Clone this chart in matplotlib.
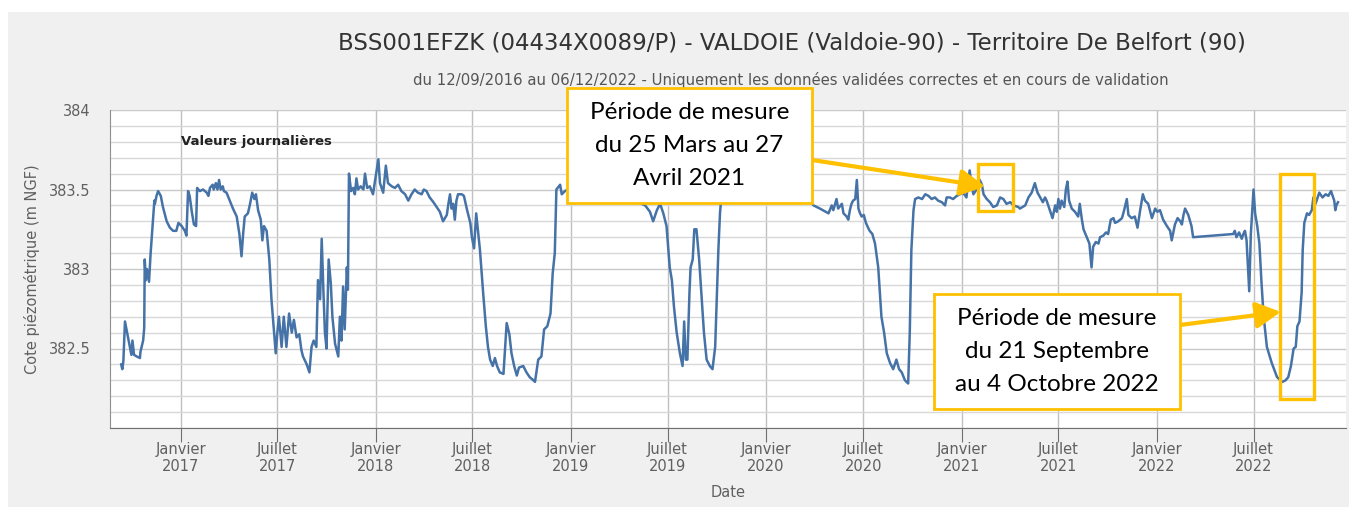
import numpy as np
import pandas as pd
import matplotlib
matplotlib.use("Agg")
import matplotlib.pyplot as plt
import matplotlib.dates as mdates
from matplotlib.patches import Rectangle
from matplotlib.ticker import FuncFormatter, MultipleLocator

########################################################################
# Data (days since 12/09/2016, level in m NGF)

debut = pd.Timestamp("2016-09-12")

jours = [0, 2, 4, 7, 11, 16, 19, 21, 24, 29, 35, 36, 41, 43, 44, 46, 48, 52, 55, 59,
         62, 63, 66, 69, 74, 78, 85, 91, 97, 103, 107, 113, 119, 122, 125, 128, 132, 136, 140, 142,
         147, 153, 160, 163, 166, 171, 173, 177, 180, 183, 186, 190, 192, 197, 203, 209, 216, 221, 225, 228,
         231, 237, 241, 245, 249, 252, 256, 261, 264, 267, 272, 277, 281, 286, 289, 292, 295, 300, 304, 309,
         314, 319, 323, 328, 333, 337, 340, 347, 352, 356, 360, 365, 368, 372, 375, 378, 381, 384, 388, 392,
         395, 400, 406, 409, 412, 415, 418, 422, 424, 426, 430, 434, 437, 440, 443, 448, 453, 456, 460, 465,
         471, 475, 481, 484, 490, 495, 499, 506, 512, 518, 524, 531, 537, 543, 549, 555, 562, 566, 571, 577,
         584, 590, 596, 602, 609, 612, 615, 618, 621, 624, 627, 630, 637, 641, 647, 653, 656, 660, 664, 668,
         671, 677, 682, 686, 690, 695, 699, 703, 708, 715, 721, 726, 730, 735, 740, 744, 752, 758, 764, 771,
         774, 780, 786, 791, 797, 803, 807, 811, 814, 821, 824, 830, 840, 860, 880, 900, 920, 940, 960, 980,
         989, 995, 1002, 1008, 1014, 1020, 1026, 1030, 1034, 1039, 1045, 1050, 1053, 1056, 1059, 1063, 1065, 1069, 1072, 1076,
         1081, 1086, 1090, 1095, 1101, 1106, 1111, 1114, 1117, 1120, 1123, 1130, 1150, 1170, 1190, 1210, 1230, 1250, 1270, 1290,
         1295, 1307, 1323, 1329, 1332, 1338, 1341, 1348, 1351, 1357, 1360, 1363, 1366, 1369, 1373, 1376, 1379, 1382, 1385, 1389,
         1393, 1397, 1400, 1405, 1410, 1416, 1422, 1427, 1432, 1438, 1444, 1450, 1455, 1460, 1466, 1472, 1475, 1478, 1482, 1485,
         1491, 1498, 1504, 1510, 1516, 1522, 1528, 1535, 1541, 1544, 1550, 1556, 1563, 1569, 1575, 1581, 1587, 1591, 1594, 1600,
         1606, 1610, 1613, 1619, 1625, 1631, 1638, 1644, 1650, 1656, 1663, 1669, 1678, 1681, 1691, 1697, 1703, 1709, 1714, 1719,
         1724, 1728, 1731, 1737, 1742, 1747, 1750, 1753, 1756, 1759, 1764, 1767, 1770, 1773, 1778, 1784, 1790, 1793, 1797, 1800,
         1806, 1811, 1815, 1818, 1823, 1828, 1831, 1837, 1842, 1846, 1851, 1856, 1859, 1865, 1872, 1876, 1881, 1884, 1890, 1896,
         1901, 1906, 1911, 1915, 1921, 1928, 1934, 1938, 1943, 1949, 1956, 1962, 1965, 1971, 1976, 1981, 1984, 1987, 1990, 1996,
         2002, 2005, 2080, 2083, 2086, 2091, 2096, 2099, 2102, 2105, 2110, 2113, 2118, 2121, 2125, 2129, 2133, 2137, 2143, 2152,
         2162, 2172, 2178, 2183, 2188, 2193, 2197, 2200, 2204, 2208, 2210, 2213, 2218, 2222, 2227, 2230, 2234, 2241, 2247, 2253,
         2258, 2263, 2266, 2269, 2271, 2273, 2276]

cote = [382.40, 382.37, 382.42, 382.67, 382.60, 382.51, 382.46, 382.55, 382.46, 382.45, 382.44, 382.48, 382.55, 382.63, 383.06, 382.93, 383.00, 382.92, 383.10, 383.29,
        383.43, 383.41, 383.46, 383.49, 383.46, 383.39, 383.30, 383.26, 383.24, 383.24, 383.29, 383.27, 383.24, 383.21, 383.49, 383.46, 383.36, 383.28, 383.27, 383.51,
        383.49, 383.50, 383.48, 383.46, 383.51, 383.53, 383.50, 383.54, 383.50, 383.56, 383.50, 383.52, 383.49, 383.48, 383.43, 383.38, 383.33, 383.22, 383.08, 383.22,
        383.33, 383.35, 383.41, 383.48, 383.44, 383.47, 383.37, 383.31, 383.18, 383.27, 383.24, 383.06, 382.81, 382.60, 382.47, 382.60, 382.70, 382.51, 382.70, 382.51,
        382.72, 382.60, 382.68, 382.57, 382.59, 382.49, 382.45, 382.40, 382.35, 382.51, 382.55, 382.51, 382.93, 382.81, 383.19, 382.88, 382.60, 382.50, 383.06, 382.91,
        382.70, 382.53, 382.45, 382.70, 382.55, 382.89, 382.62, 383.01, 382.87, 383.60, 383.49, 383.51, 383.47, 383.57, 383.50, 383.52, 383.50, 383.60, 383.51, 383.52,
        383.47, 383.56, 383.69, 383.54, 383.48, 383.65, 383.54, 383.52, 383.51, 383.53, 383.49, 383.47, 383.43, 383.47, 383.50, 383.48, 383.47, 383.50, 383.49, 383.45,
        383.42, 383.39, 383.36, 383.30, 383.34, 383.41, 383.47, 383.38, 383.41, 383.31, 383.43, 383.47, 383.47, 383.46, 383.37, 383.29, 383.20, 383.13, 383.35, 383.22,
        383.12, 382.85, 382.64, 382.51, 382.43, 382.39, 382.44, 382.39, 382.35, 382.34, 382.66, 382.59, 382.47, 382.39, 382.33, 382.38, 382.39, 382.35, 382.32, 382.30,
        382.29, 382.43, 382.45, 382.62, 382.64, 382.72, 382.97, 383.10, 383.50, 383.53, 383.47, 383.49, 383.51, 383.48, 383.52, 383.47, 383.50, 383.45, 383.43, 383.40,
        383.36, 383.30, 383.37, 383.41, 383.35, 383.27, 383.01, 382.93, 382.76, 382.60, 382.47, 382.39, 382.67, 382.43, 382.43, 382.86, 383.01, 383.06, 383.25, 383.25,
        383.06, 382.81, 382.60, 382.43, 382.39, 382.37, 382.51, 382.81, 383.12, 383.35, 383.47, 383.50, 383.47, 383.50, 383.45, 383.48, 383.44, 383.47, 383.43, 383.42,
        383.40, 383.38, 383.35, 383.40, 383.37, 383.44, 383.38, 383.41, 383.35, 383.33, 383.31, 383.37, 383.41, 383.43, 383.44, 383.56, 383.38, 383.35, 383.33, 383.34,
        383.29, 383.26, 383.24, 383.22, 383.16, 383.01, 382.70, 382.60, 382.47, 382.41, 382.37, 382.43, 382.37, 382.35, 382.30, 382.28, 382.60, 383.12, 383.37, 383.44,
        383.45, 383.44, 383.47, 383.46, 383.44, 383.45, 383.43, 383.42, 383.40, 383.45, 383.45, 383.44, 383.46, 383.47, 383.48, 383.45, 383.62, 383.52, 383.47, 383.50,
        383.56, 383.53, 383.47, 383.44, 383.42, 383.39, 383.40, 383.45, 383.44, 383.41, 383.42, 383.40, 383.39, 383.38, 383.40, 383.45, 383.48, 383.54, 383.48, 383.45,
        383.42, 383.45, 383.43, 383.37, 383.32, 383.40, 383.36, 383.44, 383.38, 383.43, 383.39, 383.50, 383.55, 383.43, 383.38, 383.36, 383.33, 383.41, 383.31, 383.25,
        383.20, 383.16, 383.01, 383.14, 383.17, 383.16, 383.20, 383.21, 383.23, 383.22, 383.31, 383.32, 383.29, 383.30, 383.32, 383.37, 383.44, 383.34, 383.32, 383.33,
        383.26, 383.37, 383.47, 383.43, 383.41, 383.32, 383.38, 383.36, 383.37, 383.31, 383.27, 383.24, 383.18, 383.28, 383.32, 383.30, 383.28, 383.34, 383.38, 383.34,
        383.27, 383.20, 383.22, 383.24, 383.20, 383.23, 383.19, 383.22, 383.24, 383.18, 382.86, 383.22, 383.50, 383.35, 383.27, 383.16, 382.91, 382.70, 382.51, 382.41,
        382.32, 382.29, 382.30, 382.32, 382.39, 382.50, 382.51, 382.64, 382.67, 382.85, 383.12, 383.29, 383.35, 383.34, 383.37, 383.45, 383.41, 383.48, 383.45, 383.47,
        383.46, 383.49, 383.46, 383.43, 383.37, 383.40, 383.42]

dates = debut + pd.to_timedelta(jours, unit="D")

# highlighted periods (as drawn on the picture)
periode_mars = ("2021-02-01", "2021-04-08", 383.365, 383.66)
periode_sept = ("2022-08-20", "2022-10-22", 382.18, 383.60)

mois_fr = {1: "Janvier", 7: "Juillet"}

########################################################################
# Figure

W, H = 1349, 507
fig = plt.figure(figsize=(W / 100, H / 100), dpi=100, facecolor="white")

def px(x, y):
    return x / W, 1 - y / H

# gray chart panel
fig.patches.append(Rectangle(px(8, 507), (W - 8) / W, 495 / H, transform=fig.transFigure,
                             facecolor="#f0f0f0", edgecolor="none", zorder=-10))

font_hc = ["Liberation Sans Narrow", "DejaVu Sans"]
font_box = ["Lato", "DejaVu Sans"]

ax = fig.add_axes([110 / W, 79 / H, 1236 / W, 318 / H])
ax.set_facecolor("white")

ax.plot(dates, cote, color="#4572A7", lw=1.8, zorder=3)

ax.set_ylim(382, 384)
ax.set_xlim(pd.Timestamp("2016-08-22"), pd.Timestamp("2022-12-21"))

ax.yaxis.set_major_locator(MultipleLocator(0.5))
ax.yaxis.set_minor_locator(MultipleLocator(0.1))
ax.yaxis.set_major_formatter(FuncFormatter(lambda v, p: f"{v:g}" if v > 382.2 else ""))
ax.grid(which="both", axis="y", color="#d8d8d8", lw=1)
ax.grid(which="major", axis="y", color="#c8c8c8", lw=1)

ax.xaxis.set_major_locator(mdates.MonthLocator(bymonth=[1, 7]))
ax.xaxis.set_major_formatter(FuncFormatter(
    lambda v, p: f"{mois_fr[mdates.num2date(v).month]}\n{mdates.num2date(v).year}"))
ax.grid(which="major", axis="x", color="#c0c0c0", lw=1)

for s in ["top", "right"]:
    ax.spines[s].set_visible(False)
ax.spines["bottom"].set_color("#707070")
ax.spines["left"].set_color("#909090")

ax.tick_params(axis="x", length=10, color="#707070", labelcolor="#606060", labelsize=10.5, pad=0)
for t in ax.get_xticklabels():
    t.set_family(font_hc)
ax.tick_params(axis="y", which="both", length=0, labelcolor="#606060", labelsize=10.5, pad=14)
for t in ax.get_yticklabels():
    t.set_family(font_hc)

ax.set_ylabel("Cote piézométrique (m NGF)", color="#606060", fontsize=10.5, labelpad=6)
ax.set_xlabel("Date", color="#606060", fontsize=10.5, family=font_hc, labelpad=8)

ax.text(0.0574, 0.9025, "Valeurs journalières", transform=ax.transAxes, fontsize=9.5,
        fontweight="bold", color="#222222", va="center", ha="left")

fig.text(*px(792, 43), "BSS001EFZK (04434X0089/P) - VALDOIE (Valdoie-90) - Territoire De Belfort (90)",
         ha="center", va="center", fontsize=16.5, color="#333333", family=font_hc)
fig.text(*px(791, 80), "du 12/09/2016 au 06/12/2022 - Uniquement les données validées correctes et en cours de validation",
         ha="center", va="center", fontsize=10.7, color="#555555", family=font_hc)

########################################################################
# Annotations

orange = "#FFC000"

for d0, d1, v0, v1 in [periode_mars, periode_sept]:
    x0 = mdates.date2num(pd.Timestamp(d0))
    x1 = mdates.date2num(pd.Timestamp(d1))
    ax.add_patch(Rectangle((x0, v0), x1 - x0, v1 - v0, fill=False, edgecolor=orange,
                           lw=2.4, zorder=5, clip_on=False))

boites = [((567, 88, 812, 203), "Période de mesure\ndu 25 Mars au 27\nAvril 2021",
           (812, 160), (pd.Timestamp("2021-02-14"), 383.52)),
          ((934, 294, 1180, 409), "Période de mesure\ndu 21 Septembre\nau 4 Octobre 2022",
           (1180, 325), (pd.Timestamp("2022-08-21"), 382.73))]

for (x0, y0, x1, y1), texte, depart, cible in boites:
    ax.annotate("", xy=(mdates.date2num(cible[0]), cible[1]), xycoords="data",
                xytext=(depart[0], H - depart[1]), textcoords="figure pixels",
                arrowprops=dict(arrowstyle="-|>,head_length=1.5,head_width=0.8", color=orange,
                                lw=3, shrinkA=0, shrinkB=0), zorder=6)
    fig.patches.append(Rectangle(px(x0, y1), (x1 - x0) / W, (y1 - y0) / H, transform=fig.transFigure,
                                 facecolor="white", edgecolor=orange, lw=2, zorder=10))
    fig.text((x0 + x1) / 2 / W, 1 - (y0 + y1) / 2 / H, texte, ha="center", va="center",
             fontsize=17.5, linespacing=1.7, color="black", family=font_box, zorder=11)

fig.savefig("out.png", dpi=100, facecolor=fig.get_facecolor())
